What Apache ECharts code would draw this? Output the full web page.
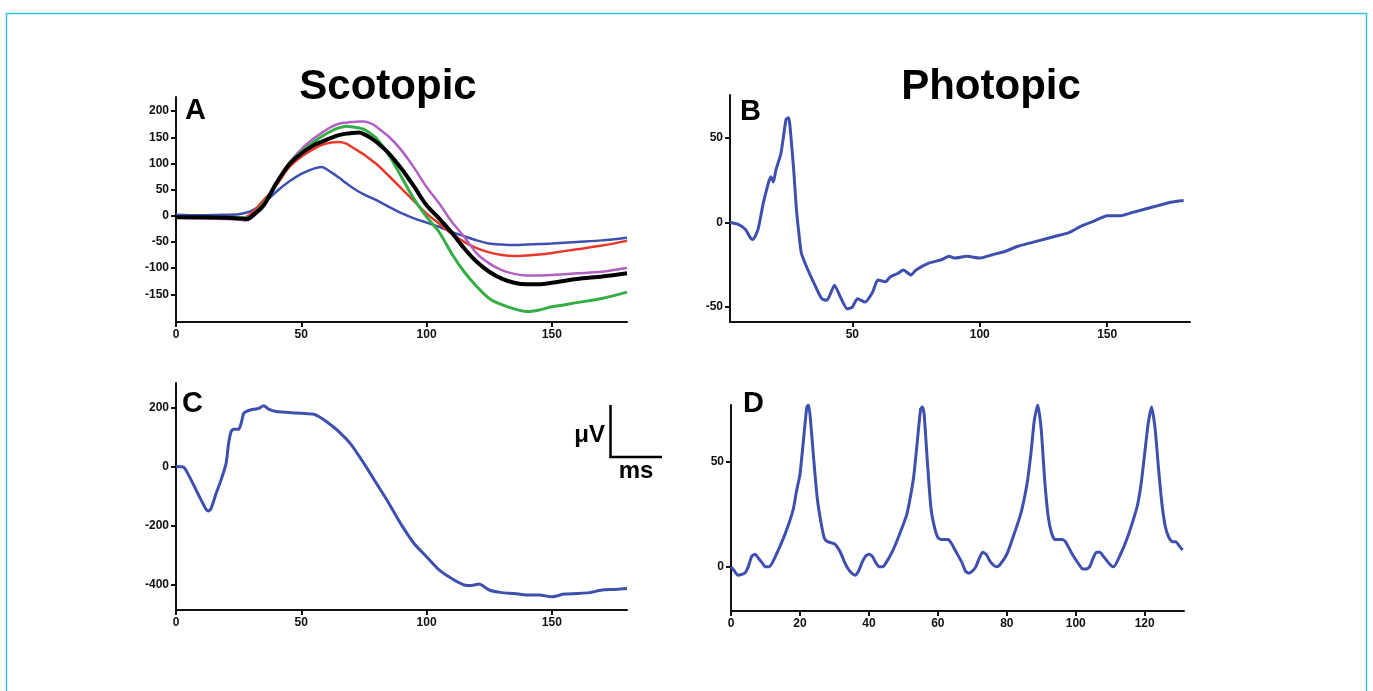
<!DOCTYPE html>
<html>
<head>
<meta charset="utf-8">
<script src="https://cdn.jsdelivr.net/npm/echarts@6/dist/echarts.min.js"></script>
<style>
html,body{margin:0;padding:0;background:#fff;}
#chart{width:1373px;height:691px;}
</style>
</head>
<body>
<div id="chart"></div>
<script>
// ---------- Panel A (Scotopic, intensity series) ----------
const aTime   = [0,10,20,25,28,30,35,40,45,50,55,58,62,65,68,70,73,75,78,80,85,90,95,100,105,110,115,120,125,130,135,140,145,150,160,170,180];
const aBlue   = [2,1,2,3,6,9,24,46,65,80,90,93,83,73,62,55,46,41,34,30,17,5,-5,-13,-21,-31,-39,-47,-53,-55,-56,-55,-54,-53,-50,-47,-42];
const aRed    = [-3,-3,-4,-4,-2,4,30,58,92,113,128,135,140,141,138,132,123,117,106,99,76,52,28,4,-15,-34,-50,-62,-70,-75,-77,-76,-74,-71,-64,-57,-48];
const aPurple = [-4,-5,-6,-7,-9,-5,20,62,100,127,148,158,170,176,178,179,180,180,176,170,151,125,92,55,24,-11,-40,-72,-91,-104,-111,-114,-114,-113,-110,-107,-100];
const aGreen  = [-3,-3,-4,-4,-4,-1,24,62,99,122,141,151,162,168,171,170,168,165,156,148,116,74,32,-2,-31,-72,-107,-135,-158,-170,-178,-183,-180,-174,-166,-158,-146];
const aBlack  = [-3,-3,-4,-5,-6,-2,20,62,97,119,135,141,149,154,157,158,159,156,148,141,119,90,56,20,-5,-32,-62,-88,-107,-120,-128,-131,-131,-128,-121,-116,-110];

// ---------- Panel B (Photopic single flash) ----------
const bTime = [2,5,8,10,11,13,15,17,18,19,20,22,24,25,26,27,28,29,30,32,35,38,40,42,43,45,48,50,52,55,58,60,63,65,68,70,73,75,80,85,88,90,95,100,105,110,115,120,125,130,135,140,145,150,155,160,165,170,175,180];
const bVal  = [0,-1,-4,-9,-10,-4,11,23,27,24,31,41,61,62,49,31,9,-6,-18,-26,-36,-45,-46,-40,-37,-43,-51,-50,-45,-47,-41,-34,-35,-32,-30,-28,-31,-28,-24,-22,-20,-21,-20,-21,-19,-17,-14,-12,-10,-8,-6,-2,1,4,4,6,8,10,12,13];

// ---------- Panel C (Scotopic bright flash) ----------
const cTime = [0,3,5,8,10,12,13,14,16,18,20,21,22,23,25,26,27,28,30,33,35,37,40,45,50,55,57,60,65,70,75,80,85,90,95,100,105,110,115,118,121,125,130,135,140,145,150,155,160,165,170,175,180];
const cVal  = [0,-2,-28,-79,-113,-145,-151,-142,-91,-45,11,79,119,127,127,147,181,187,193,198,207,195,187,184,181,178,170,153,119,74,11,-57,-125,-198,-261,-306,-351,-380,-402,-404,-399,-419,-428,-431,-436,-436,-442,-433,-431,-428,-419,-417,-414];

// ---------- Panel D (Photopic flicker) ----------
const dTime = [0,1,2,4,5,6,7,8,9,10,11,12,14,16,18,19,20,21,22,22.5,23,24,25,26,27,28,30,31,32,33,34,35,36,37,38,39,40,41,42,43,44,45,47,49,51,52,53,54,55,55.5,56,57,58,59,60,61,63,64,65,67,68,69,70,71,72,73,74,75,76,77,78,80,82,84,85,86,87,88,89,90,91,92,93,94,96,97,99,101,102,103,104,105,106,107,108,110,111,113,115,117,118,119,120,121,122,123,124,125,126,127,128,129,130,131];
const dVal  = [0,-2,-4,-3,0,5,6,4,2,0,0,2,9,17,27,36,44,60,76,77,71,51,33,22,14,12,11,9,6,2,-1,-3,-4,-2,2,5,6,5,2,0,0,2,8,16,25,33,43,59,75,76,73,49,28,19,14,13,13,11,8,2,-2,-3,-2,0,4,7,6,3,1,0,1,6,15,25,32,41,54,70,77,65,41,24,16,13,13,12,6,1,-1,-1,0,4,7,7,5,1,0,6,14,24,30,40,54,68,76,66,47,30,19,14,12,12,10,8];

// ---------- Tick labels ----------
const ticksA_x = [0,50,100,150];
const ticksA_y = [-150,-100,-50,0,50,100,150,200];
const ticksB_x = [50,100,150];
const ticksB_y = [-50,0,50];
const ticksC_x = [0,50,100,150];
const ticksC_y = [-400,-200,0,200];
const ticksD_x = [0,20,40,60,80,100,120];
const ticksD_y = [0,50];

const pair = (xs, ys) => xs.map((x, i) => [x, ys[i]]);

const FONT = '"Liberation Sans", Arial, sans-serif';
const BLUE = '#3f4fae';

function xAxis(gi, min, max, ticks) {
  return {
    type: 'value', gridIndex: gi, min: min, max: max,
    axisLine: { show: true, onZero: false, lineStyle: { color: '#111', width: 2 } },
    axisTick: { show: true, inside: false, length: 5, lineStyle: { color: '#111', width: 2 }, customValues: ticks },
    axisLabel: { show: true, margin: 7, color: '#111', fontFamily: FONT, fontWeight: 'bold', fontSize: 12, customValues: ticks },
    splitLine: { show: false }
  };
}
function yAxis(gi, min, max, ticks) {
  return {
    type: 'value', gridIndex: gi, min: min, max: max,
    axisLine: { show: true, onZero: false, lineStyle: { color: '#111', width: 2 } },
    axisTick: { show: true, inside: false, length: 5, lineStyle: { color: '#111', width: 2 }, customValues: ticks },
    axisLabel: { show: true, margin: 7, color: '#111', fontFamily: FONT, fontWeight: 'bold', fontSize: 12, customValues: ticks },
    splitLine: { show: false }
  };
}
function line(xi, data, color, width, smooth) {
  return {
    type: 'line', xAxisIndex: xi, yAxisIndex: xi, data: data,
    showSymbol: false, symbol: 'none', smooth: smooth, animation: false,
    lineStyle: { color: color, width: width }
  };
}

const chart = echarts.init(document.getElementById('chart'), null, { renderer: 'canvas' });

const bigText = (text, x, y, size) => ({
  type: 'text', x: x, y: y,
  style: { text: text, font: 'bold ' + size + 'px ' + FONT, fill: '#000', align: 'center', verticalAlign: 'middle', textAlign: 'center', textVerticalAlign: 'middle' }
});
const letter = (text, x, y) => ({
  type: 'text', x: x, y: y,
  style: { text: text, font: 'bold 29px ' + FONT, fill: '#000', align: 'left', verticalAlign: 'middle', textAlign: 'left', textVerticalAlign: 'middle' }
});

chart.setOption({
  backgroundColor: '#fff',
  animation: false,
  grid: [
    { left: 176, top: 97, width: 451, height: 225 },
    { left: 730, top: 95, width: 460, height: 227 },
    { left: 176, top: 383, width: 451, height: 227 },
    { left: 731, top: 405, width: 453, height: 206 }
  ],
  xAxis: [
    xAxis(0, 0, 180, ticksA_x),
    xAxis(1, 2, 182.5, ticksB_x),
    xAxis(2, 0, 180, ticksC_x),
    xAxis(3, 0, 131.4, ticksD_x)
  ],
  yAxis: [
    yAxis(0, -203, 227, ticksA_y),
    yAxis(1, -58.8, 75.4, ticksB_y),
    yAxis(2, -487, 284, ticksC_y),
    yAxis(3, -21, 77, ticksD_y)
  ],
  series: [
    line(0, pair(aTime, aBlue), '#3d50b0', 2.5, 0.3),
    line(0, pair(aTime, aRed), '#e8382b', 2.5, 0.3),
    line(0, pair(aTime, aPurple), '#b060c0', 2.5, 0.3),
    line(0, pair(aTime, aGreen), '#35ad45', 3, 0.3),
    line(0, pair(aTime, aBlack), '#000000', 4, 0.3),
    line(1, pair(bTime, bVal), BLUE, 3, 0.2),
    line(2, pair(cTime, cVal), BLUE, 3, 0.2),
    line(3, pair(dTime, dVal), BLUE, 3, 0.2)
  ],
  graphic: [
    { type: 'polyline', shape: { points: [[6.5, 700], [6.5, 13.5], [1366.5, 13.5], [1366.5, 700]] }, style: { stroke: '#35c3f2', lineWidth: 1.5, fill: null } },
    bigText('Scotopic', 388, 87, 42),
    bigText('Photopic', 991, 87, 42),
    letter('A', 185, 111),
    letter('B', 740, 112),
    letter('C', 182, 404),
    letter('D', 743, 404),
    { type: 'line', shape: { x1: 610.5, y1: 405, x2: 610.5, y2: 457 }, style: { stroke: '#000', lineWidth: 2.5 } },
    { type: 'line', shape: { x1: 609.3, y1: 457, x2: 662, y2: 457 }, style: { stroke: '#000', lineWidth: 2.5 } },
    { type: 'text', x: 605, y: 435, style: { text: 'μV', font: 'bold 24px ' + FONT, fill: '#000', align: 'right', verticalAlign: 'middle', textAlign: 'right', textVerticalAlign: 'middle' } },
    { type: 'text', x: 636, y: 471, style: { text: 'ms', font: 'bold 24px ' + FONT, fill: '#000', align: 'center', verticalAlign: 'middle', textAlign: 'center', textVerticalAlign: 'middle' } }
  ]
});
</script>
</body>
</html>
